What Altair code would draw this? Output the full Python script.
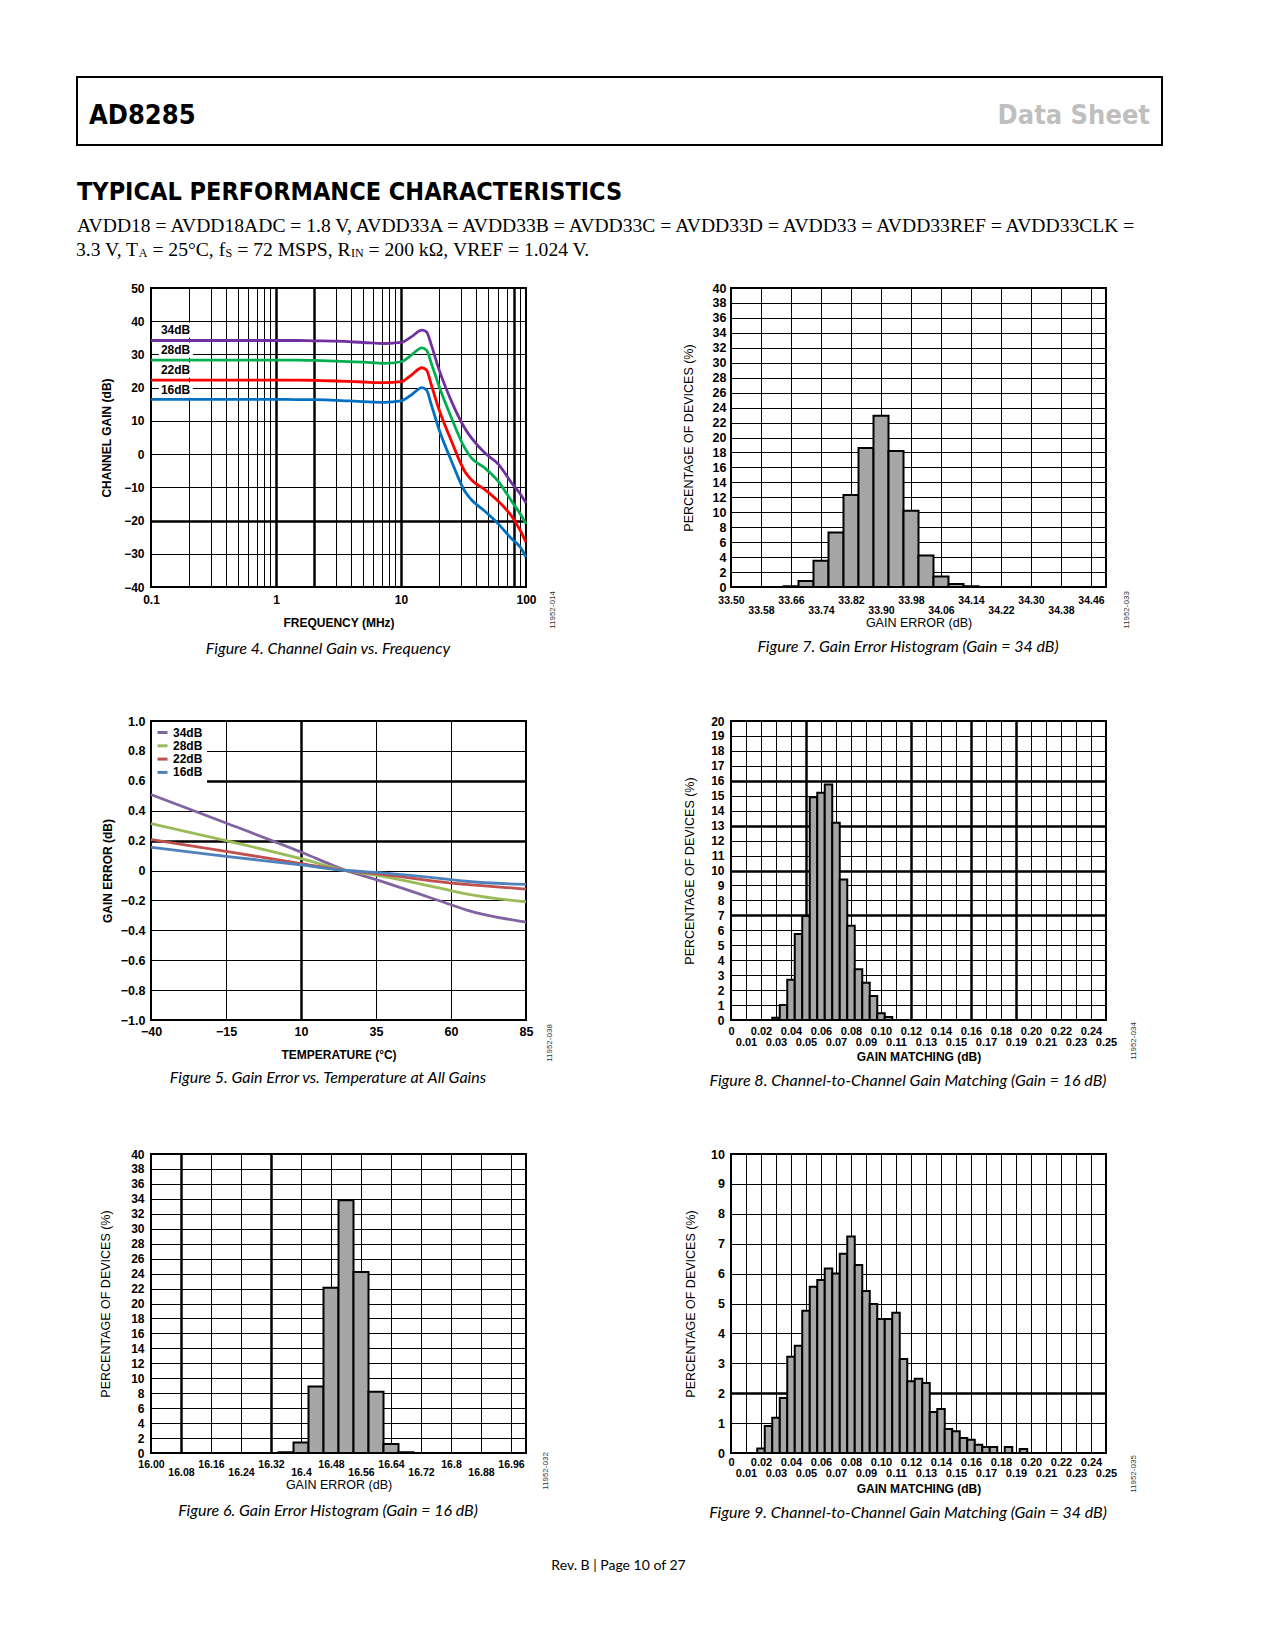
import altair as alt
import pandas as pd

SANS = "Liberation Sans"
NARROW = "DejaVu Sans Condensed"
SERIF = "Liberation Serif"
CAPF = "Lato"
W, H = 375, 299
THIN, THICK = 1, 2.5

# ---------------- Figure 4 data: channel gain vs frequency ----------------
f4_freq = [0.1, 0.5, 1.0, 1.5, 2.0, 3.0, 5.0, 7.4, 10.0, 12.1, 14.7, 16.0, 17.5, 20.0,
           25.4, 32.4, 36.7, 46.9, 60.0, 76.8, 90.0, 100.0]
f4_34 = [34.2, 34.2, 34.2, 34.2, 34.1, 34.0, 33.6, 33.3, 33.6, 35.3, 37.3, 36.8, 32.8, 25.8,
         15.8, 7.8, 4.8, 0.3, -3.0, -8.7, -12.0, -14.7]
f4_28 = [28.3, 28.3, 28.3, 28.3, 28.2, 28.0, 27.7, 27.3, 27.8, 29.8, 32.0, 31.3, 27.3, 20.8,
         10.8, 1.8, -1.2, -4.2, -8.2, -14.2, -18.0, -21.0]
f4_22 = [22.3, 22.3, 22.3, 22.3, 22.2, 22.0, 21.7, 21.5, 21.8, 23.8, 26.0, 25.3, 20.8, 13.8,
         3.8, -5.2, -7.8, -10.7, -14.2, -18.7, -23.0, -26.5]
f4_16 = [16.5, 16.5, 16.5, 16.4, 16.4, 16.2, 15.8, 15.6, 16.0, 17.8, 20.0, 19.3, 14.8, 7.8,
         -2.2, -11.2, -13.8, -17.2, -21.0, -25.5, -28.0, -31.0]
f4_series = ["34dB", "28dB", "22dB", "16dB"]
f4_colors = ["#7030a0", "#00b050", "#ff0000", "#0070c0"]
f4_label_freq = [0.12, 0.12, 0.12, 0.12]
f4_label_gain = [37.3, 31.3, 25.3, 19.3]
f4_xlabels = [0.1, 1, 10, 100]
f4_ticks_y = [-40, -30, -20, -10, 0, 10, 20, 30, 40, 50]

# ---------------- Figure 5 data: gain error vs temperature ----------------
f5_temp = [-40, -15, 10, 25, 35, 60, 65, 85]
f5_34 = [0.508, 0.318, 0.124, 0.0, -0.061, -0.229, -0.263, -0.345]
f5_28 = [0.314, 0.200, 0.079, 0.0, -0.031, -0.135, -0.157, -0.209]
f5_22 = [0.207, 0.128, 0.046, 0.0, -0.021, -0.084, -0.093, -0.124]
f5_16 = [0.155, 0.095, 0.037, 0.0, -0.013, -0.061, -0.072, -0.093]
f5_colors = ["#8064a2", "#9bbb59", "#c0504d", "#4f81bd"]
f5_ticks_x = [-40, -15, 10, 35, 60, 85]

# ---------------- Figure 7 data: gain error histogram, 34 dB ----------------
f7_bin_lo = [33.64, 33.68, 33.72, 33.76, 33.80, 33.84, 33.88, 33.92, 33.96, 34.00, 34.04, 34.08, 34.12]
f7_pct = [0.1, 0.8, 3.5, 7.3, 12.3, 18.6, 22.9, 18.2, 10.2, 4.2, 1.4, 0.4, 0.1]
f7_ticks_x = [33.50, 33.58, 33.66, 33.74, 33.82, 33.90, 33.98, 34.06, 34.14, 34.22, 34.30, 34.38, 34.46]

# ---------------- Figure 6 data: gain error histogram, 16 dB ----------------
f6_bin_lo = [16.34, 16.38, 16.42, 16.46, 16.50, 16.54, 16.58, 16.62, 16.66]
f6_pct = [0.1, 1.4, 8.9, 22.1, 33.8, 24.2, 8.2, 1.2, 0.1]
f6_ticks_x = [16.00, 16.08, 16.16, 16.24, 16.32, 16.40, 16.48, 16.56, 16.64, 16.72, 16.80, 16.88, 16.96]
f6_tick_text = ["16.00", "16.08", "16.16", "16.24", "16.32", "16.4", "16.48", "16.56",
                "16.64", "16.72", "16.8", "16.88", "16.96"]

# ---------------- Figure 8 data: gain matching, 16 dB ----------------
f8_center = [0.030, 0.035, 0.040, 0.045, 0.050, 0.055, 0.060, 0.065, 0.070, 0.075,
             0.080, 0.085, 0.090, 0.095, 0.100, 0.105]
f8_pct = [0.15, 1.0, 2.7, 5.75, 6.95, 14.9, 15.2, 15.75, 13.2, 9.4, 6.3, 3.4, 2.5, 1.6, 0.45, 0.2]

# ---------------- Figure 9 data: gain matching, 34 dB ----------------
f9_center = [0.020, 0.025, 0.030, 0.035, 0.040, 0.045, 0.050, 0.055, 0.060, 0.065,
             0.070, 0.075, 0.080, 0.085, 0.090, 0.095, 0.100, 0.105, 0.110, 0.115,
             0.120, 0.125, 0.130, 0.135, 0.140, 0.145, 0.150, 0.155, 0.160, 0.165,
             0.170, 0.175, 0.185, 0.195]
f9_pct = [0.15, 0.9, 1.18, 1.84, 3.22, 3.59, 4.76, 5.56, 5.79, 6.17,
          6.0, 6.66, 7.24, 6.29, 5.42, 4.98, 4.48, 4.48, 4.69, 3.14,
          2.4, 2.48, 2.34, 1.37, 1.47, 0.8, 0.73, 0.5, 0.44, 0.28,
          0.2, 0.2, 0.2, 0.13]
match_ticks_x = [0.00, 0.01, 0.02, 0.03, 0.04, 0.05, 0.06, 0.07, 0.08, 0.09, 0.10, 0.11, 0.12,
                 0.13, 0.14, 0.15, 0.16, 0.17, 0.18, 0.19, 0.20, 0.21, 0.22, 0.23, 0.24, 0.25]

# ---------------- helpers ----------------
def near_any(vals):
    return " || ".join(f"abs(datum.value - ({v})) < 1e-6" for v in vals)


def grid_w(thick):
    if not thick:
        return THIN
    return {"condition": {"test": near_any(thick), "value": THICK}, "value": THIN}


def x_axis(values, title, label_size, pad1, title_y, title_weight="bold", title_size=12,
           label_expr=None, stagger=None, pad2=None, thick=None):
    kw = dict(values=values, title=title, grid=True, gridColor="black", gridOpacity=1,
              gridWidth=grid_w(thick), domain=False, ticks=False, tickSize=0,
              labelFont=SANS, labelFontSize=label_size, labelFontWeight="bold", labelColor="black",
              labelBaseline="middle", labelFlush=False, labelOverlap=False,
              titleFont=SANS, titleFontSize=title_size, titleFontWeight=title_weight,
              titleColor="black", titleX=W / 2, titleY=title_y, titleBaseline="middle",
              titleAlign="center")
    if label_expr:
        kw["labelExpr"] = label_expr
    if stagger:
        kw["labelPadding"] = {"condition": {"test": stagger, "value": pad2}, "value": pad1}
    else:
        kw["labelPadding"] = pad1
    return alt.Axis(**kw)


def y_axis(values, title, label_size, pad, title_x, title_weight="bold", title_size=12,
           label_expr=None, thick=None):
    kw = dict(values=values, title=title, grid=True, gridColor="black", gridOpacity=1,
              gridWidth=grid_w(thick), domain=False, ticks=False, tickSize=0,
              labelFont=SANS, labelFontSize=label_size, labelFontWeight="bold", labelColor="black",
              labelPadding=pad, labelFlush=False, labelOverlap=False,
              titleFont=SANS, titleFontSize=title_size, titleFontWeight=title_weight,
              titleColor="black", titleX=title_x, titleY=H / 2, titleBaseline="middle",
              titleAlign="center")
    if label_expr:
        kw["labelExpr"] = label_expr
    return alt.Axis(**kw)


ONE = pd.DataFrame({"k": [0]})


def caption(text, cx, cy):
    return alt.Chart(ONE).mark_text(font=CAPF, fontSize=16, fontStyle="italic", color="black",
                                    align="center", baseline="middle").encode(
        x=alt.value(cx), y=alt.value(cy), text=alt.value(text))


def code_label(text, cx, cy):
    return alt.Chart(ONE).mark_text(font=SANS, fontSize=8, color="#333333", angle=270,
                                    align="center", baseline="middle").encode(
        x=alt.value(cx), y=alt.value(cy), text=alt.value(text))


def txt(text, x, y, font, size, weight="normal", color="black", align="left"):
    return alt.Chart(ONE).mark_text(font=font, fontSize=size, fontWeight=weight, color=color,
                                    align=align, baseline="alphabetic").encode(
        x=alt.value(x), y=alt.value(y), text=alt.value(text))


def hist(df, xdom, ydom, xax, yax):
    return alt.Chart(df).mark_rect(fill="#a6a6a6", stroke="black", strokeWidth=2).encode(
        x=alt.X("lo:Q", scale=alt.Scale(domain=xdom, nice=False, zero=False), axis=xax),
        x2="hi:Q",
        y=alt.Y("pct:Q", scale=alt.Scale(domain=ydom, nice=False), axis=yax),
        y2=alt.datum(0),
    )

# ---------------- Figure 4 ----------------
rows = []
for name, vals in zip(f4_series, [f4_34, f4_28, f4_22, f4_16]):
    for f, g in zip(f4_freq, vals):
        rows.append({"freq": f, "gain": g, "series": name})
df4 = pd.DataFrame(rows)
df4lab = pd.DataFrame({"freq": f4_label_freq, "gain": f4_label_gain, "text": f4_series})

f4_grid_x = [round(m * 10 ** e, 4) for e in (-1, 0, 1) for m in range(1, 10)] + [100]
x4_scale = alt.Scale(type="log", domain=[0.1, 100], nice=False)
y4_scale = alt.Scale(domain=[-40, 50], nice=False, zero=False)
x4_axis = x_axis(f4_grid_x, "FREQUENCY (MHz)", 12, 12, 35,
                 label_expr="indexof(" + str(f4_xlabels) + ", datum.value) >= 0 ? format(datum.value, '~g') : ''",
                 thick=[1, 2, 10, 80])
y4_axis = y_axis(f4_ticks_y, "CHANNEL GAIN (dB)", 12, 7, -45, thick=[-20])

f4_lines = alt.Chart(df4).mark_line(strokeWidth=2.8, interpolate="monotone").encode(
    x=alt.X("freq:Q", scale=x4_scale, axis=x4_axis),
    y=alt.Y("gain:Q", scale=y4_scale, axis=y4_axis),
    color=alt.Color("series:N", scale=alt.Scale(domain=f4_series, range=f4_colors), legend=None),
    detail="series:N")
f4_boxes = alt.Chart(df4lab).transform_calculate(
    x0="datum.freq * 0.965", x1="datum.freq * 1.8", y0="datum.gain - 2.3", y1="datum.gain + 2.3"
).mark_rect(fill="white").encode(
    x=alt.X("x0:Q", scale=x4_scale, axis=x4_axis), x2="x1:Q",
    y=alt.Y("y0:Q", scale=y4_scale, axis=y4_axis), y2="y1:Q")
f4_text = alt.Chart(df4lab).mark_text(font=SANS, fontSize=12, fontWeight="bold", color="black",
                                      align="left", baseline="middle").encode(
    x=alt.X("freq:Q", scale=x4_scale, axis=x4_axis),
    y=alt.Y("gain:Q", scale=y4_scale, axis=y4_axis), text="text:N")

# page header drawn relative to Figure 4's plot origin (page x=150, y=287)
header = [
    alt.Chart(ONE).mark_rect(fillOpacity=0, stroke="black", strokeWidth=2).encode(
        x=alt.value(-74), x2=alt.value(1011), y=alt.value(-211), y2=alt.value(-143)),
    txt("AD8285", -62, -164, NARROW, 27, "bold"),
    txt("Data Sheet", 999, -164, NARROW, 27, "bold", color="#bfbfbf", align="right"),
    txt("TYPICAL PERFORMANCE CHARACTERISTICS", -74, -88, NARROW, 25, "bold"),
    txt("AVDD18 = AVDD18ADC = 1.8 V, AVDD33A = AVDD33B = AVDD33C = AVDD33D = AVDD33 = AVDD33REF = AVDD33CLK =",
        -74, -56, SERIF, 19.6),
    txt("3.3 V, T", -75, -32, SERIF, 19.6),
    txt("A", -12.2, -31, SERIF, 12),
    txt("= 25\u00b0C, f", 1.4, -32, SERIF, 19.6),
    txt("S", 74.6, -31, SERIF, 12),
    txt("= 72 MSPS, R", 86.2, -32, SERIF, 19.6),
    txt("IN", 200, -31, SERIF, 12),
    txt("= 200 k\u03a9, VREF = 1.024 V.", 217.6, -32, SERIF, 19.6),
]

fig4 = alt.layer(f4_lines, f4_boxes, f4_text, caption("Figure 4. Channel Gain vs. Frequency", 177, 361),
                 code_label("11952-014", 402, 322), *header).properties(width=W, height=H)

# ---------------- Figure 7 ----------------
df7 = pd.DataFrame({"lo": f7_bin_lo, "pct": f7_pct})
df7["hi"] = df7["lo"] + 0.04
fig7 = alt.layer(
    hist(df7, [33.5, 34.5], [0, 40],
         x_axis(f7_ticks_x, "GAIN ERROR (dB)", 10.5, 13.7, 35.5, title_weight="normal", title_size=12.5,
                label_expr="format(datum.value, '.2f')",
                stagger="round((datum.value - 33.5) / 0.08) % 2 == 1", pad2=23),
         y_axis(list(range(0, 41, 2)), "PERCENTAGE OF DEVICES (%)", 12.5, 5, -43,
                title_weight="normal", title_size=12.5)),
    caption("Figure 7. Gain Error Histogram (Gain = 34 dB)", 177, 359),
    code_label("11952-033", 396, 322),
).properties(width=W, height=H)

# ---------------- Figure 5 ----------------
rows = []
for name, vals in zip(f4_series, [f5_34, f5_28, f5_22, f5_16]):
    for t, e in zip(f5_temp, vals):
        rows.append({"temp": t, "err": e, "gainset": name})
df5 = pd.DataFrame(rows)
f5_ticks_y = [round(-1 + 0.2 * i, 1) for i in range(11)]
fig5 = alt.layer(
    alt.Chart(df5).mark_line(strokeWidth=2.8, interpolate="monotone").encode(
        x=alt.X("temp:Q", scale=alt.Scale(domain=[-40, 85], nice=False, zero=False),
                axis=x_axis(f5_ticks_x, "TEMPERATURE (\u00b0C)", 12.5, 11.7, 34, thick=[10])),
        y=alt.Y("err:Q", scale=alt.Scale(domain=[-1, 1], nice=False),
                axis=y_axis(f5_ticks_y, "GAIN ERROR (dB)", 12.5, 6, -44,
                            label_expr="datum.value == 0 ? '0' : format(datum.value, '.1f')",
                            thick=[0.6, 0.2])),
        color=alt.Color("gainset:N", scale=alt.Scale(domain=f4_series, range=f5_colors),
                        legend=alt.Legend(orient="top-left", title=None, fillColor="white", padding=4,
                                          offset=1, symbolType="stroke", symbolStrokeWidth=3,
                                          symbolSize=100, labelFont=SANS, labelFontSize=12,
                                          labelFontWeight="bold", labelColor="black", rowPadding=0.3,
                                          labelOffset=4)),
    ),
    caption("Figure 5. Gain Error vs. Temperature at All Gains", 177, 357),
    code_label("11952-038", 399, 322),
).properties(width=W, height=H)

# ---------------- Figure 8 ----------------
df8 = pd.DataFrame({"c": f8_center, "pct": f8_pct})
df8["lo"] = df8["c"] - 0.0025
df8["hi"] = df8["c"] + 0.0025
match_label = "datum.value == 0 ? '0' : format(datum.value, '.2f')"
match_stagger = "round(datum.value * 100) % 2 == 1"
fig8 = alt.layer(
    hist(df8, [0, 0.25], [0, 20],
         x_axis(match_ticks_x, "GAIN MATCHING (dB)", 11, 11, 36, title_weight="bold", title_size=12,
                label_expr=match_label, stagger=match_stagger, pad2=22.7,
                thick=[0.05, 0.12, 0.16, 0.19]),
         y_axis(list(range(0, 21)), "PERCENTAGE OF DEVICES (%)", 12, 7, -42,
                title_weight="normal", title_size=12.5, thick=[7, 10, 13, 16])),
    caption("Figure 8. Channel-to-Channel Gain Matching (Gain = 16 dB)", 177, 360),
    code_label("11952-034", 403, 320),
).properties(width=W, height=H)

# ---------------- Figure 6 ----------------
df6 = pd.DataFrame({"lo": f6_bin_lo, "pct": f6_pct})
df6["hi"] = df6["lo"] + 0.04
fig6 = alt.layer(
    hist(df6, [16.0, 17.0], [0, 40],
         x_axis(f6_ticks_x, "GAIN ERROR (dB)", 10.5, 11, 31, title_weight="normal", title_size=12.5,
                label_expr=str(f6_tick_text) + "[round((datum.value - 16) / 0.08)]",
                stagger="round((datum.value - 16) / 0.08) % 2 == 1", pad2=19,
                thick=[16.08, 16.32]),
         y_axis(list(range(0, 41, 2)), "PERCENTAGE OF DEVICES (%)", 12, 7, -46,
                title_weight="normal", title_size=12.5)),
    caption("Figure 6. Gain Error Histogram (Gain = 16 dB)", 177, 357),
    code_label("11952-032", 395, 317),
    alt.Chart(ONE).mark_text(font=CAPF, fontSize=14, color="black", align="center",
                             baseline="middle").encode(
        x=alt.value(467.5), y=alt.value(412), text=alt.value("Rev. B | Page 10 of 27")),
).properties(width=W, height=H)

# ---------------- Figure 9 ----------------
df9 = pd.DataFrame({"c": f9_center, "pct": f9_pct})
df9["lo"] = df9["c"] - 0.0025
df9["hi"] = df9["c"] + 0.0025
fig9 = alt.layer(
    hist(df9, [0, 0.25], [0, 10],
         x_axis(match_ticks_x, "GAIN MATCHING (dB)", 11, 9.7, 35, title_weight="bold", title_size=12,
                label_expr=match_label, stagger=match_stagger, pad2=20.6),
         y_axis(list(range(0, 11)), "PERCENTAGE OF DEVICES (%)", 12.5, 6.6, -41,
                title_weight="normal", title_size=12.5, thick=[2])),
    caption("Figure 9. Channel-to-Channel Gain Matching (Gain = 34 dB)", 177, 359),
    code_label("11952-035", 403, 320),
).properties(width=W, height=H)

chart = alt.concat(
    fig4, fig7, fig5, fig8, fig6, fig9,
    columns=2,
    spacing=alt.RowColnumber(row=134, column=205),
    bounds="flush",
    padding={"left": 67, "top": 67, "right": 10, "bottom": 10},
    background="white",
).resolve_scale(color="independent").resolve_legend(color="independent").configure_view(
    stroke="black", strokeWidth=2)

chart.save("out.html", embed_options={"renderer": "svg", "actions": False})
